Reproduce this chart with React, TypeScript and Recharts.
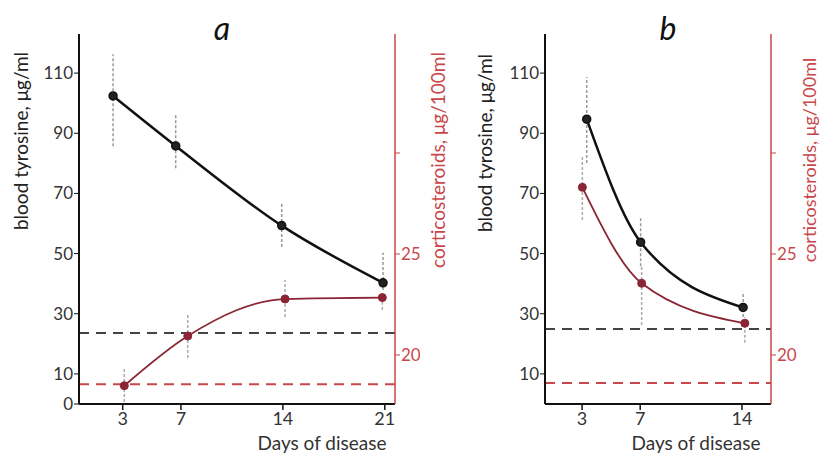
import React from 'react';
import { ComposedChart, Line, XAxis, YAxis, ReferenceLine, ErrorBar } from 'recharts';

// ---- Panel a ----
const dayTicksA = [3, 7, 14, 21];
const tyrDaysA = [2.34, 6.64, 13.92, 20.88];
const tyrValsA = [102.4, 85.8, 59.3, 40.3];
const tyrErrA = [[16.7, 13.9], [7.4, 10.2], [7.1, 7.2], [2.4, 10]];
const corDaysA = [3.11, 7.47, 14.15, 20.83];
const corValsA = [18.48, 20.94, 22.77, 22.84];
const corErrA = [[0.81, 0.88], [1.09, 1.04], [0.89, 0.94], [0.6, 0.2]];
const tyrNormA = 23.6;
const corNormA = 6.6;

// ---- Panel b ----
const dayTicksB = [3, 7, 14];
const tyrDaysB = [3.32, 7.03, 14.08];
const tyrValsB = [94.7, 53.8, 32.1];
const tyrErrB = [[14.6, 14], [8, 8], [3.2, 5.1]];
const corDaysB = [3.02, 7.1, 14.2];
const corValsB = [28.3, 23.55, 21.57];
const corErrB = [[1.62, 1.6], [2.06, 0.86], [0.97, 0.31]];
const tyrNormB = 24.9;
const corNormB = 7.0;

// ---- axes ----
const leftTicksA = [0, 10, 30, 50, 70, 90, 110];
const leftTicksB = [10, 30, 50, 70, 90, 110];
const rightTicks = [20, 25, 30];
const leftDomain = [0, 123];
const rightDomain = [17.574, 35.89];

const RED = '#c8474b';
const DARKRED = '#8b2535';

const build = (days: number[], vals: number[], errs: number[][]) =>
  days.map((d, i) => ({ day: d, v: vals[i], err: errs[i] }));

const tickStyle = { fontSize: 17, fill: '#333', fontFamily: 'Lato' };
const redTick = { fontSize: 17, fill: RED, fontFamily: 'Lato' };

function Panel(props: {
  width: number;
  leftW: number;
  rightW: number;
  xDomain: number[];
  xTicks: number[];
  leftTicks: number[];
  tyr: any[];
  cor: any[];
  tyrNorm: number;
  corNorm: number;
}) {
  const { width, leftW, rightW, xDomain, xTicks, leftTicks, tyr, cor, tyrNorm, corNorm } = props;
  return (
    <ComposedChart width={width} height={457} margin={{ top: 34, right: 0, bottom: 0, left: 0 }}>
      <XAxis
        type="number"
        dataKey="day"
        domain={xDomain}
        ticks={xTicks}
        allowDataOverflow
        height={53}
        stroke="#111"
        strokeWidth={2}
        tickSize={6}
        tick={{ fontSize: 18, fill: '#333', fontFamily: 'Lato' }}
        tickLine={{ stroke: '#111', strokeWidth: 1.5 }}
      />
      <YAxis
        yAxisId="left"
        domain={leftDomain}
        ticks={leftTicks}
        allowDataOverflow
        width={leftW}
        stroke="#111"
        strokeWidth={2}
        tickSize={5}
        tickMargin={1}
        tick={tickStyle}
        tickLine={{ stroke: '#111', strokeWidth: 1 }}
      />
      <YAxis
        yAxisId="right"
        orientation="right"
        domain={rightDomain}
        ticks={rightTicks}
        allowDataOverflow
        width={rightW}
        stroke={RED}
        strokeWidth={1.5}
        tickSize={5}
        tickMargin={1}
        tick={redTick}
        tickLine={{ stroke: RED, strokeWidth: 1 }}
        tickFormatter={(v: number) => (v === 30 ? '' : String(v))}
      />
      <ReferenceLine yAxisId="left" y={tyrNorm} stroke="#444" strokeWidth={2} strokeDasharray="10 7" />
      <ReferenceLine yAxisId="left" y={corNorm} stroke={RED} strokeWidth={2} strokeDasharray="10 7" />
      <Line
        yAxisId="left"
        data={tyr}
        dataKey="v"
        type="monotone"
        stroke="#111"
        strokeWidth={2.5}
        dot={{ r: 4, fill: '#222', stroke: '#111', strokeWidth: 1.5 }}
        isAnimationActive={false}
      >
        <ErrorBar dataKey="err" direction="y" width={0} stroke="#999" strokeWidth={1.5} strokeDasharray="3 2" />
      </Line>
      <Line
        yAxisId="right"
        data={cor}
        dataKey="v"
        type="monotone"
        stroke={DARKRED}
        strokeWidth={1.8}
        dot={{ r: 4, fill: DARKRED, stroke: DARKRED, strokeWidth: 1 }}
        isAnimationActive={false}
      >
        <ErrorBar dataKey="err" direction="y" width={0} stroke="#aaa" strokeWidth={1.5} strokeDasharray="3 2" />
      </Line>
    </ComposedChart>
  );
}

export default function App() {
  const tyrA = build(tyrDaysA, tyrValsA, tyrErrA);
  const corA = build(corDaysA, corValsA, corErrA);
  const tyrB = build(tyrDaysB, tyrValsB, tyrErrB);
  const corB = build(corDaysB, corValsB, corErrB);
  return (
    <div style={{ position: 'absolute', left: 0, top: 0, width: 822, height: 457, background: '#fff', fontFamily: 'Lato', overflow: 'hidden' }}>
      <div style={{ position: 'absolute', left: 0, top: 0 }}>
        <Panel width={420} leftW={79} rightW={25} xDomain={[0, 21.7]} xTicks={dayTicksA} leftTicks={leftTicksA}
          tyr={tyrA} cor={corA} tyrNorm={tyrNormA} corNorm={corNormA} />
      </div>
      <div style={{ position: 'absolute', left: 460, top: 0 }}>
        <Panel width={362} leftW={85} rightW={51} xDomain={[0.45, 16]} xTicks={dayTicksB} leftTicks={leftTicksB}
          tyr={tyrB} cor={corB} tyrNorm={tyrNormB} corNorm={corNormB} />
      </div>
      <svg width={822} height={457} style={{ position: 'absolute', left: 0, top: 0, pointerEvents: 'none' }}>
        <text x={222} y={40} textAnchor="middle" fontSize={32} fontStyle="italic" fill="#111" fontFamily="Lato">a</text>
        <text x={668} y={40} textAnchor="middle" fontSize={32} fontStyle="italic" fill="#111" fontFamily="Lato">b</text>
        <text transform="translate(28,141) rotate(-90)" textAnchor="middle" fontSize={19} fill="#222" fontFamily="Lato">blood tyrosine, μg/ml</text>
        <text transform="translate(492,143) rotate(-90)" textAnchor="middle" fontSize={19} fill="#222" fontFamily="Lato">blood tyrosine, μg/ml</text>
        <text transform="translate(445,160) rotate(-90)" textAnchor="middle" fontSize={19} fill={RED} fontFamily="Lato">corticosteroids, μg/100ml</text>
        <text transform="translate(816,160) rotate(-90)" textAnchor="middle" fontSize={18} fill={RED} fontFamily="Lato">corticosteroids, μg/100ml</text>
        <text x={322} y={450} textAnchor="middle" fontSize={19} fill="#333" fontFamily="Lato">Days of disease</text>
        <text x={696} y={450} textAnchor="middle" fontSize={19} fill="#333" fontFamily="Lato">Days of disease</text>
      </svg>
    </div>
  );
}
